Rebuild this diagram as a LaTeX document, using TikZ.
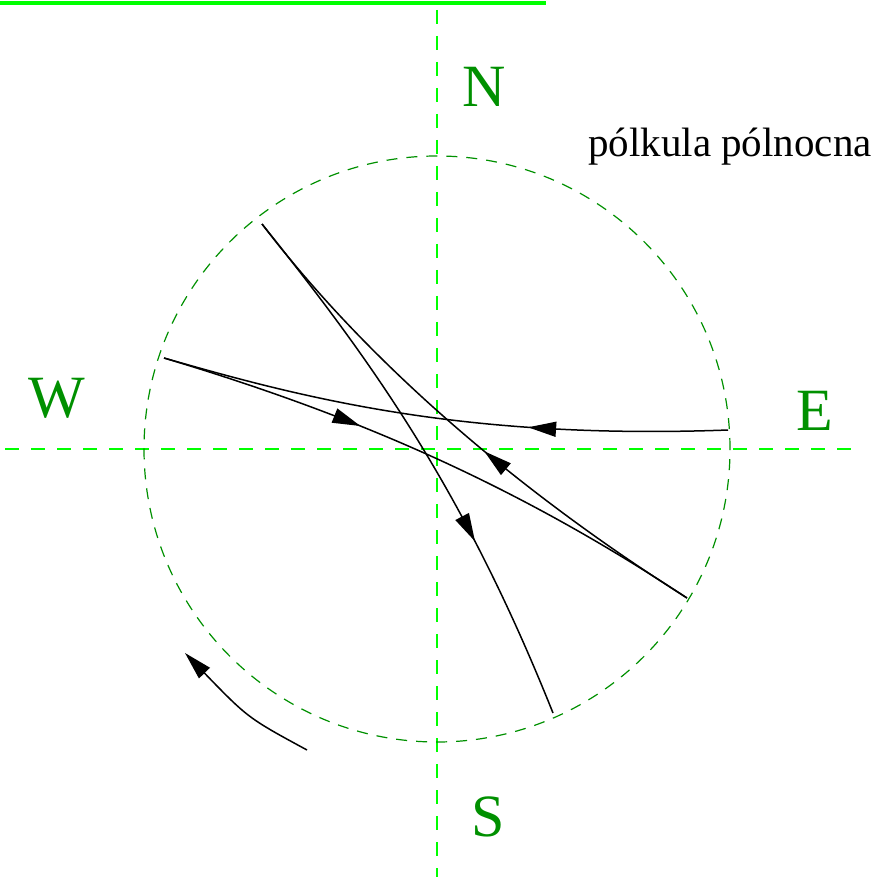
\documentclass[tikz,border=0pt]{standalone}
\usepackage{fontspec}
\setmainfont{Liberation Serif}
\usetikzlibrary{arrows.meta,decorations.markings}
\definecolor{axisgreen}{HTML}{00FF00}
\definecolor{compass}{HTML}{009000}

\begin{document}
\begin{tikzpicture}[x=1pt,y=-1pt,
  axisline/.style={axisgreen,line width=1.2pt,dash pattern=on 14pt off 12pt},
  globe/.style={compass,line width=1.2pt,dash pattern=on 11pt off 9pt},
  dir/.style={font=\fontsize{60}{60}\selectfont,text=compass,anchor=base,inner sep=0pt},
  track/.style={black,line width=1.5pt},
  midarrow/.style={postaction={decorate,decoration={markings,
      mark=at position #1 with {\arrow{Triangle[length=28pt,width=15pt]}}}}},
]
  \useasboundingbox (0,0) rectangle (881,877);
  \draw[axisgreen,line width=3.5pt] (0,3) -- (546,3);
  \draw[axisline] (437,10) -- (437,877);
  \draw[axisline] (5,449) -- (860,449);
  \coordinate (O) at (437,449);
  \draw[globe] (O) circle[radius=293pt];

  \node[dir] (N) at (484,107) {N};
  \node[dir] (S) at (488,836) {S};
  \node[dir] (W) at (57,417) {W};
  \node[dir] (E) at (815,430) {E};
  \node[font=\fontsize{41}{41}\selectfont,anchor=base,inner sep=0pt] (hemi) at (730,157) {pólkula pólnocna};

  \coordinate (wpt) at (164,358);
  \coordinate (ept) at (728,430);
  \coordinate (sept) at (687,598);
  \coordinate (nwpt) at (262,224);
  \coordinate (spt) at (553,713);
  \coordinate (rotA) at (307,750);
  \coordinate (rotB) at (185,653);

  \draw[track,midarrow=0.36] (wpt) .. controls (344,412) and (507,479) .. (sept);
  \draw[track,midarrow=0.44] (sept) .. controls (540,505) and (380,378) .. (nwpt);
  \draw[track,midarrow=0.67] (nwpt) .. controls (372,361.5) and (463,488) .. (spt);
  \draw[track,midarrow=0.35] (ept) .. controls (460,440) and (300,397) .. (wpt);
  \draw[track,-{Triangle[length=28pt,width=15pt]}] (rotA) .. controls (248,718) .. (rotB);
\end{tikzpicture}
\end{document}
